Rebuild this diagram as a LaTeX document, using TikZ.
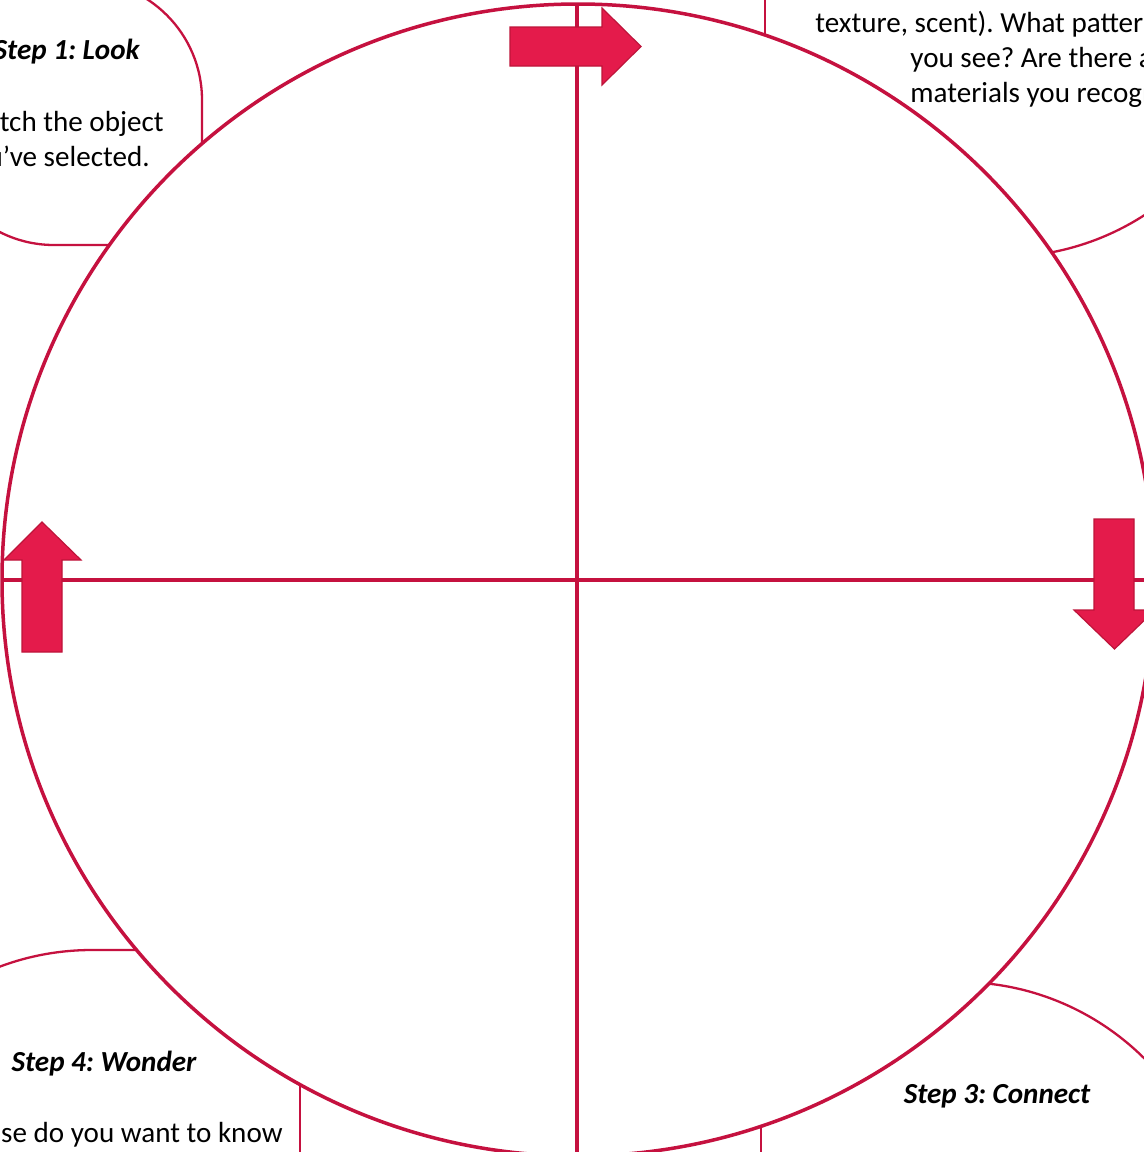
\documentclass[tikz,border=0pt]{standalone}
\usepackage{fontspec}
\setmainfont{Carlito}
\frenchspacing
\definecolor{ringred}{RGB}{197,17,63}
\definecolor{arrowred}{RGB}{228,27,75}
\definecolor{arrowedge}{RGB}{190,20,58}
\begin{document}
\begin{tikzpicture}[x=0.5pt,y=-0.5pt,
  bubble/.style={draw=ringred,line width=1.15pt},
  ring/.style={draw=ringred,line width=1.75pt,fill=white},
  axisline/.style={draw=ringred,line width=1.7pt},
  blockarrow/.style={fill=arrowred,draw=arrowedge,line width=0.6pt,line join=miter},
  title/.style={font=\fontsize{14.55}{17.75}\selectfont\bfseries\itshape,inner sep=0pt},
  body/.style={font=\fontsize{14.55}{17.75}\selectfont,inner sep=0pt}]
\useasboundingbox (0,0) rectangle (1144,1152);
\clip (0,0) rectangle (1144,1152);
\fill[white] (0,0) rectangle (1144,1152);
% bubbles (behind the ring)
\draw[bubble] (202,170) -- (202,100) .. controls (202,33.7) and (148.2,-20) .. (82,-20) -- (20,-20);
\draw[bubble] (-66,60) -- (-66,125) .. controls (-66,191.2) and (-12.2,245) .. (54,245) -- (130,245);
\draw[bubble] (765,-30) -- (765,60);
\draw[bubble] (960,257) -- (1002,257) .. controls (1147.2,257) and (1265,139.2) .. (1265,-6);
\draw[bubble] (-171,1260) -- (-171,1213) .. controls (-171,1067.8) and (-53.2,950) .. (92,950) -- (160,950);
\draw[bubble] (300,1060) -- (300,1170);
\draw[bubble] (940,982) -- (959,982) .. controls (1104.2,982) and (1222,1099.8) .. (1222,1245);
\draw[bubble] (761,1100) -- (761,1170);
% ring
\coordinate (c) at (578,580);
\coordinate (w) at (2,580);
\coordinate (e) at (1154,580);
\coordinate (n) at (577,4);
\coordinate (s) at (577,1156);
\draw[ring] (c) circle [radius=576];
\draw[axisline] (w) -- (e);
\draw[axisline] (n) -- (s);
% block arrows
\draw[blockarrow] (510,27) -- (602,27) -- (602,8) -- (641,46.5) -- (602,85) -- (602,66) -- (510,66) -- cycle;
\draw[blockarrow] (22,652) -- (22,560) -- (4,560) -- (42,522) -- (81,560) -- (62,560) -- (62,652) -- cycle;
\draw[blockarrow] (1094,519) -- (1134,519) -- (1134,610) -- (1155,610) -- (1114.5,649) -- (1074,610) -- (1094,610) -- cycle;
% texts
\node[title,anchor=base east] (t1) at (140,59) {Step 1: Look};
\node[body,anchor=base east] (b1a) at (164,131) {Sketch the object};
\node[body,anchor=base east] (b1b) at (150,166) {you’ve selected.};
\node[body,anchor=base west] (b2a) at (815,32) {texture, scent). What patterns};
\node[body,anchor=base west] (b2b) at (910,67) {you see? Are there any};
\node[body,anchor=base west] (b2c) at (910,102) {materials you recognize?};
\node[title,anchor=base] (t4) at (104,1071) {Step 4: Wonder};
\node[body,anchor=base east] (b4a) at (283,1142) {What else do you want to know};
\node[title,anchor=base] (t3) at (997,1103) {Step 3: Connect};
\end{tikzpicture}
\end{document}
